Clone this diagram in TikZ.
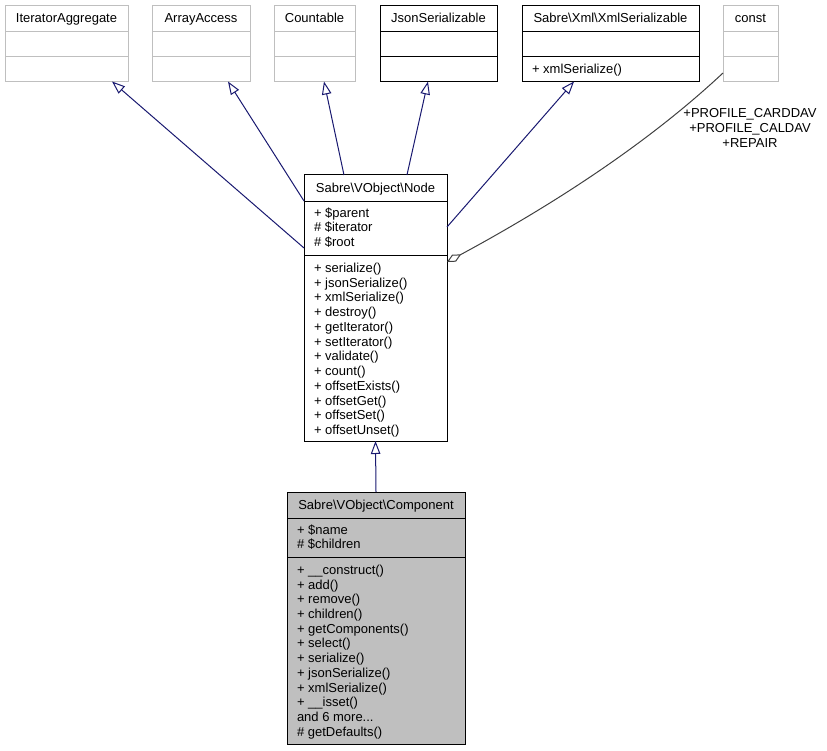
\documentclass[tikz,border=0pt]{standalone}
\usepackage{fontspec}
\setmainfont{Liberation Sans}
\usetikzlibrary{arrows.meta,calc}
\definecolor{edgeblue}{HTML}{191970}
\definecolor{lightframe}{HTML}{BFBFBF}
\definecolor{constedge}{HTML}{404040}
\definecolor{compfill}{HTML}{BFBFBF}
\newcommand\cpmoretext{and 6 more...}
\begin{document}
\begin{tikzpicture}[x=1pt,y=-1pt,
  every node/.style={font=\fontsize{13}{14}\selectfont, inner sep=0pt, outer sep=0pt},
  title/.style={anchor=base},
  member/.style={anchor=base west},
  inh/.style={draw=edgeblue, line width=1pt, -{Triangle[open,length=13pt,width=9.5pt]}},
  agg/.style={draw=constedge, line width=1pt, {Diamond[open,length=16pt,width=8pt]}-},
  dimbox/.style={draw=lightframe, line width=1pt, anchor=north west},
  darkbox/.style={draw=black, line width=1pt, anchor=north west},
  dimline/.style={draw=lightframe, line width=1pt},
  darkline/.style={draw=black, line width=1pt},
]
\useasboundingbox (0,0) rectangle (827,751);

% ---- top row of classes ----
\node[dimbox, minimum width=123pt, minimum height=76pt] (ia) at (5,5.5) {};
\draw[dimline] (5,31.5) -- (128,31.5) (5,56.5) -- (128,56.5);
\node[title] (ia-t) at (66.5,22.5) {IteratorAggregate};

\node[dimbox, minimum width=98pt, minimum height=76pt] (aa) at (152,5.5) {};
\draw[dimline] (152,31.5) -- (250,31.5) (152,56.5) -- (250,56.5);
\node[title] (aa-t) at (201,22.5) {ArrayAccess};

\node[dimbox, minimum width=81pt, minimum height=76pt] (ct) at (274,5.5) {};
\draw[dimline] (274,31.5) -- (355,31.5) (274,56.5) -- (355,56.5);
\node[title] (ct-t) at (314.5,22.5) {Countable};

\node[darkbox, minimum width=117pt, minimum height=76pt] (js) at (380,5.5) {};
\draw[darkline] (380,31.5) -- (497,31.5) (380,56.5) -- (497,56.5);
\node[title] (js-t) at (438.5,22.5) {JsonSerializable};

\node[darkbox, minimum width=177pt, minimum height=76pt] (xs) at (522,5.5) {};
\draw[darkline] (522,31.5) -- (699,31.5) (522,56.5) -- (699,56.5);
\node[title] (xs-t) at (610.5,22.5) {Sabre\textbackslash Xml\textbackslash XmlSerializable};
\node[member] (xs-m) at (532,73.5) {+ xmlSerialize()};

\node[dimbox, minimum width=55pt, minimum height=76pt] (co) at (723,5.5) {};
\draw[dimline] (723,31.5) -- (778,31.5) (723,56.5) -- (778,56.5);
\node[title] (co-t) at (750.5,22.5) {const};

% ---- Sabre\VObject\Node ----
\node[darkbox, minimum width=143pt, minimum height=266pt] (nd) at (304,175) {};
\draw[darkline] (304,201.5) -- (447,201.5) (304,256) -- (447,256);
\node[title] (nd-t) at (375.5,192.5) {Sabre\textbackslash VObject\textbackslash Node};
\foreach \t [count=\i from 0] in {+ \$parent, \# \$iterator, \# \$root}
  \node[member] (nd-a\i) at (314,217.3+14.4*\i) {\t};
\foreach \t [count=\i from 0] in {+ serialize(), + jsonSerialize(), + xmlSerialize(),
  + destroy(), + getIterator(), + setIterator(), + validate(), + count(),
  + offsetExists(), + offsetGet(), + offsetSet(), + offsetUnset()}
  \node[member] (nd-o\i) at (314,272.3+14.75*\i) {\t};

% ---- Sabre\VObject\Component ----
\node[darkbox, fill=compfill, minimum width=178pt, minimum height=252pt] (cp) at (287,492) {};
\draw[darkline] (287,518.5) -- (465,518.5) (287,557.5) -- (465,557.5);
\node[title] (cp-t) at (376,509.5) {Sabre\textbackslash VObject\textbackslash Component};
\foreach \t [count=\i from 0] in {+ \$name, \# \$children}
  \node[member] (cp-a\i) at (297,534.3+14.4*\i) {\t};
\foreach \t [count=\i from 0] in {+ \_\_construct(), + add(), + remove(), + children(),
  + getComponents(), + select(), + serialize(), + jsonSerialize(), + xmlSerialize(),
  + \_\_isset(), \cpmoretext, \# getDefaults()}
  \node[member] (cp-o\i) at (297,574.3+14.72*\i) {\t};

% ---- connectors ----
\draw[inh] ($(nd.north west)!0.2744!(nd.south west)$) -- ($(ia.south west)!0.87!(ia.south east)$);
\draw[inh] ($(nd.north west)!0.0977!(nd.south west)$) -- ($(aa.south west)!0.7755!(aa.south east)$);
\draw[inh] ($(nd.north west)!0.2797!(nd.north east)$) -- ($(ct.south west)!0.617!(ct.south east)$);
\draw[inh] ($(nd.north west)!0.72!(nd.north east)$) -- ($(js.south west)!0.41!(js.south east)$);
\draw[inh] ($(nd.north east)!0.1955!(nd.south east)$) -- ($(xs.south west)!0.294!(xs.south east)$);
\draw[inh] (cp.north) -- (nd.south);
\draw[agg] ($(nd.north east)!0.327!(nd.south east)$) .. controls (573,194) and (660,132) .. ($(co.north west)!0.888!(co.south west)$);
\node[align=center, font=\fontsize{13}{15}\selectfont] (co-lbl) at (750,128)
  {+PROFILE\_CARDDAV\\+PROFILE\_CALDAV\\+REPAIR};
\end{tikzpicture}
\end{document}
